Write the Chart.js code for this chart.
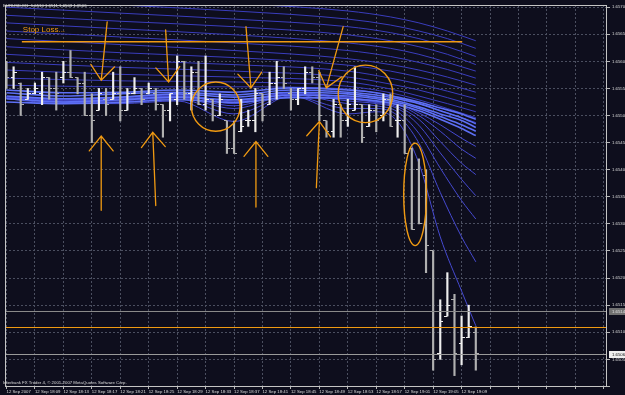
<!DOCTYPE html>
<html><head><meta charset="utf-8">
<script src="https://cdn.jsdelivr.net/npm/chart.js@4/dist/chart.umd.min.js"></script>
<style>html,body{margin:0;padding:0;background:#0e0e1d;overflow:hidden}</style>
</head><body>
<canvas id="c" width="625" height="395"></canvas>
<script>
// ---- data ----
const symbolTitle = "EURUSD,M1  1.6510 1.6511 1.6503 1.6506";
const copyrightText = "Interbank FX Trader 4, \u00A9 2001-2007 MetaQuotes Software Corp.";
const timeLabels = ["12 Sep 2007","12 Sep 18:09","12 Sep 18:13","12 Sep 18:17","12 Sep 18:21","12 Sep 18:25","12 Sep 18:29","12 Sep 18:33","12 Sep 18:37","12 Sep 18:41","12 Sep 18:45","12 Sep 18:49","12 Sep 18:53","12 Sep 18:57","12 Sep 19:01","12 Sep 19:05","12 Sep 19:09"];

const barOpen = [1.6559,1.6557,1.6556,1.6553,1.6554,1.6554,1.6557,1.6555,1.6557,1.6558,
 1.6557,1.6556,1.6550,1.6551,1.6553,1.6553,1.6554,1.6551,1.6554,1.6555,
 1.6554,1.6554,1.6552,1.6551,1.6553,1.6560,1.6554,1.6558,1.6552,1.6553,
 1.6550,1.6549,1.6544,1.6547,1.6549,1.6549,1.6554,1.6552,1.6556,1.6557,
 1.6554,1.6553,1.6555,1.6558,1.6557,1.6549,1.6547,1.6552,1.6549,1.6551,
 1.6552,1.6548,1.6551,1.6550,1.6553,1.6549,1.6549,1.6544,1.6540,1.6539,
 1.6525,1.6506,1.6513,1.6516,1.6508,1.6509,1.6510];
const barHigh = [1.6560,1.6559,1.6556,1.6555,1.6556,1.6558,1.6557,1.6558,1.6560,1.6562,
 1.6557,1.6558,1.6554,1.6555,1.6555,1.6558,1.6559,1.6555,1.6557,1.6555,
 1.6556,1.6555,1.6552,1.6554,1.6561,1.6560,1.6559,1.6560,1.6561,1.6553,
 1.6554,1.6549,1.6549,1.6553,1.6551,1.6555,1.6554,1.6558,1.6560,1.6559,
 1.6555,1.6555,1.6559,1.6559,1.6558,1.6549,1.6553,1.6552,1.6553,1.6559,
 1.6552,1.6552,1.6552,1.6554,1.6554,1.6552,1.6552,1.6544,1.6542,1.6540,
 1.6525,1.6516,1.6521,1.6517,1.6513,1.6515,1.6511];
const barLow = [1.6555,1.6555,1.6550,1.6553,1.6554,1.6552,1.6553,1.6551,1.6556,1.6557,
 1.6554,1.6550,1.6545,1.6551,1.6550,1.6553,1.6549,1.6551,1.6554,1.6552,
 1.6554,1.6551,1.6546,1.6549,1.6552,1.6553,1.6551,1.6552,1.6551,1.6549,
 1.6550,1.6543,1.6543,1.6547,1.6548,1.6547,1.6549,1.6552,1.6553,1.6555,
 1.6551,1.6552,1.6554,1.6556,1.6549,1.6546,1.6546,1.6546,1.6548,1.6551,
 1.6545,1.6548,1.6547,1.6549,1.6548,1.6546,1.6543,1.6529,1.6530,1.6521,
 1.6503,1.6505,1.6513,1.6502,1.6504,1.6509,1.6503];
const barClose = [1.6557,1.6558,1.6552,1.6554,1.6555,1.6557,1.6555,1.6554,1.6558,1.6557,
 1.6556,1.6550,1.6549,1.6554,1.6552,1.6554,1.6551,1.6554,1.6555,1.6553,
 1.6555,1.6552,1.6551,1.6554,1.6560,1.6554,1.6558,1.6552,1.6553,1.6550,
 1.6553,1.6544,1.6543,1.6548,1.6549,1.6554,1.6550,1.6556,1.6557,1.6556,
 1.6553,1.6555,1.6558,1.6557,1.6550,1.6547,1.6552,1.6549,1.6552,1.6552,
 1.6546,1.6551,1.6549,1.6553,1.6548,1.6549,1.6543,1.6529,1.6530,1.6526,
 1.6505,1.6512,1.6515,1.6506,1.6509,1.6511,1.6506];

// moving-average fan (at a few bar positions)
const upperKnots = [0,16,32,48,54,58,62,66];
const fanUpper = [
 [1.65729,1.65718,1.65707,1.65693,1.65682,1.65671,1.65656,1.65638],
 [1.65715,1.65704,1.65693,1.65678,1.65667,1.65656,1.65642,1.65624],
 [1.65700,1.65689,1.65678,1.65664,1.65653,1.65642,1.65627,1.65609],
 [1.65685,1.65674,1.65664,1.65649,1.65638,1.65627,1.65613,1.65594],
 [1.65671,1.65660,1.65649,1.65634,1.65624,1.65613,1.65598,1.65582],
 [1.65656,1.65645,1.65634,1.65620,1.65609,1.65598,1.65585,1.65569],
 [1.65642,1.65631,1.65620,1.65605,1.65594,1.65584,1.65571,1.65556],
 [1.65627,1.65616,1.65607,1.65593,1.65582,1.65571,1.65558,1.65543],
 [1.65613,1.65602,1.65594,1.65582,1.65569,1.65558,1.65545,1.65531],
 [1.65598,1.65589,1.65582,1.65571,1.65558,1.65547,1.65533,1.65518],
 [1.65584,1.65576,1.65571,1.65562,1.65549,1.65536,1.65522,1.65507],
 [1.65569,1.65564,1.65562,1.65554,1.65542,1.65529,1.65513,1.65496],
 [1.65556,1.65553,1.65553,1.65549,1.65536,1.65522,1.65505,1.65487]
];
const fullKnots = [0,8,16,24,32,40,48,52,55,58,61,64,66];
const fanCore = [
 [1.65547,1.65542,1.65543,1.65547,1.65543,1.65551,1.65547,1.65542,1.65534,1.65525,1.65514,1.65503,1.65493],
 [1.65542,1.65536,1.65540,1.65543,1.65538,1.65547,1.65543,1.65538,1.65531,1.65522,1.65509,1.65496,1.65485],
 [1.65536,1.65531,1.65534,1.65540,1.65534,1.65543,1.65540,1.65534,1.65527,1.65516,1.65503,1.65491,1.65478],
 [1.65531,1.65525,1.65529,1.65534,1.65529,1.65538,1.65536,1.65531,1.65524,1.65513,1.65498,1.65483,1.65471],
 [1.65525,1.65522,1.65524,1.65529,1.65524,1.65533,1.65531,1.65527,1.65520,1.65509,1.65493,1.65476,1.65463]
];
const fanLower = [
 [1.65531,1.65522,1.65522,1.65527,1.65489,1.65536,1.65503,1.65507,1.65489,1.65412,1.65276,1.65176,1.65112],
 [1.65533,1.65524,1.65525,1.65531,1.65503,1.65536,1.65513,1.65513,1.65500,1.65449,1.65358,1.65276,1.65230],
 [1.65533,1.65525,1.65527,1.65533,1.65513,1.65538,1.65522,1.65518,1.65507,1.65467,1.65403,1.65343,1.65309],
 [1.65534,1.65527,1.65529,1.65534,1.65518,1.65540,1.65527,1.65522,1.65513,1.65482,1.65431,1.65382,1.65352],
 [1.65534,1.65527,1.65531,1.65536,1.65522,1.65540,1.65531,1.65524,1.65516,1.65493,1.65452,1.65412,1.65391],
 [1.65534,1.65529,1.65531,1.65536,1.65525,1.65542,1.65533,1.65525,1.65520,1.65500,1.65471,1.65438,1.65421],
 [1.65534,1.65529,1.65533,1.65538,1.65527,1.65542,1.65534,1.65527,1.65522,1.65505,1.65483,1.65458,1.65443]
];

// hand-drawn annotations (bar index, price)
const stopLossPrice = 1.65636, stopLossFrom = 2.16, stopLossTo = 64.09;
const stopLossLabel = "Stop Loss...";
const orangeLevel = 1.6511, grayLevel = 1.6514, bidLevel = 1.6506;
const arrows = [
 [14.16,1.65673,13.32,1.65565],[22.38,1.65658,22.80,1.65562],
 [33.68,1.65664,34.38,1.65551],[47.35,1.65664,44.98,1.65551],
 [13.32,1.65325,13.32,1.65462],[20.99,1.65334,20.57,1.65469],
 [35.08,1.65331,35.08,1.65452],[43.58,1.65367,44.00,1.65489]
];
const ellipses = [
 [26.01,1.65562,32.85,1.65471],[46.65,1.65593,54.32,1.65487],[55.86,1.65449,59.07,1.65260]
];

// ---- style ----
const BG = '#0e0e1d', GRID = '#4b4f60', ORANGE = '#f09a12', FONT = 'Liberation Sans';
const UP = '#eeeeee', DOWN = '#b0b0b0';

function tickImg(left, color) {
  const c = document.createElement('canvas'); c.width = 6; c.height = 1;
  const g = c.getContext('2d'); g.fillStyle = color;
  g.fillRect(left ? 0 : 3, 0, 3, 1); return c;
}
const imgs = {oU: tickImg(true, UP), oD: tickImg(true, DOWN), cU: tickImg(false, UP), cD: tickImg(false, DOWN)};
const isUp = i => barClose[i] >= barOpen[i];
const pts = (knots, vals) => knots.map((k, j) => ({x: k, y: vals[j]}));

const datasets = [];
fanUpper.forEach(v => datasets.push({type:'line', data: pts(upperKnots, v), borderColor:'#3a3dbd', borderWidth:1, pointRadius:0, cubicInterpolationMode:'monotone', order:30}));
fanLower.forEach(v => datasets.push({type:'line', data: pts(fullKnots, v), borderColor:'#4549d0', borderWidth:1, pointRadius:0, cubicInterpolationMode:'monotone', order:25}));
fanCore.forEach(v => datasets.push({type:'line', data: pts(fullKnots, v), borderColor:'#5d6ff5', borderWidth:1.6, pointRadius:0, cubicInterpolationMode:'monotone', order:20}));
datasets.push({type:'bar', data: barHigh.map((h, i) => ({x:i, y:[barLow[i], h]})),
  backgroundColor: c => isUp(c.dataIndex) ? UP : DOWN, barThickness:1.5, order:3});
datasets.push({type:'line', showLine:false, data: barOpen.map((o, i) => ({x:i, y:o})),
  pointStyle: c => isUp(c.dataIndex) ? imgs.oU : imgs.oD, pointRadius:2, order:2});
datasets.push({type:'line', showLine:false, data: barClose.map((o, i) => ({x:i, y:o})),
  pointStyle: c => isUp(c.dataIndex) ? imgs.cU : imgs.cD, pointRadius:2, order:1});

const overlay = {
  id: 'overlay',
  beforeDraw(chart) {
    const g = chart.ctx; g.save(); g.fillStyle = BG; g.fillRect(0, 0, chart.width, chart.height); g.restore();
  },
  afterDatasetsDraw(chart) {
    const g = chart.ctx, a = chart.chartArea, xs = chart.scales.x, ys = chart.scales.y;
    const X = v => xs.getPixelForValue(v), Y = v => ys.getPixelForValue(v);
    g.save();
    g.beginPath(); g.rect(a.left, a.top, a.right - a.left, a.bottom - a.top); g.clip();
    // horizontal levels
    g.lineWidth = 1;
    g.strokeStyle = '#8a8a8a'; g.beginPath(); g.moveTo(a.left, Math.round(Y(grayLevel)) + .5); g.lineTo(a.right, Math.round(Y(grayLevel)) + .5); g.stroke();
    g.strokeStyle = '#9a9a9a'; g.beginPath(); g.moveTo(a.left, Math.round(Y(bidLevel)) + .5); g.lineTo(a.right, Math.round(Y(bidLevel)) + .5); g.stroke();
    g.strokeStyle = ORANGE; g.beginPath(); g.moveTo(a.left, Math.round(Y(orangeLevel)) + .5); g.lineTo(a.right, Math.round(Y(orangeLevel)) + .5); g.stroke();
    // stop loss
    g.lineWidth = 1.5;
    g.beginPath(); g.moveTo(X(stopLossFrom), Y(stopLossPrice)); g.lineTo(X(stopLossTo), Y(stopLossPrice)); g.stroke();
    g.fillStyle = ORANGE; g.font = '8px "' + FONT + '"'; g.textBaseline = 'alphabetic';
    g.fillText(stopLossLabel, X(2.3), Y(1.65655));
    // arrows
    g.lineWidth = 1.3; g.lineCap = 'round';
    arrows.forEach(([x1, p1, x2, p2]) => {
      const ax = X(x1), ay = Y(p1), bx = X(x2), by = Y(p2);
      const ang = Math.atan2(by - ay, bx - ax), L = 19, w = 0.68;
      g.beginPath(); g.moveTo(ax, ay); g.lineTo(bx, by);
      g.moveTo(bx - L * Math.cos(ang - w), by - L * Math.sin(ang - w)); g.lineTo(bx, by);
      g.lineTo(bx - L * Math.cos(ang + w), by - L * Math.sin(ang + w));
      g.stroke();
    });
    // circles / ellipse
    g.lineWidth = 1.4;
    ellipses.forEach(([x1, p1, x2, p2]) => {
      const l = X(x1), r = X(x2), t = Y(p1), b = Y(p2);
      g.beginPath(); g.ellipse((l + r) / 2, (t + b) / 2, (r - l) / 2, (b - t) / 2, 0, 0, Math.PI * 2); g.stroke();
    });
    g.restore();
    // frame
    g.save(); g.strokeStyle = '#c4c4c4'; g.lineWidth = 1;
    g.strokeRect(a.left + .5, a.top + .5, a.right - a.left - 1, a.bottom - a.top - 1);
    g.restore();
  },
  afterDraw(chart) {
    const g = chart.ctx, a = chart.chartArea, ys = chart.scales.y;
    g.save();
    g.font = '4.3px "' + FONT + '"'; g.textBaseline = 'middle';
    g.fillStyle = '#dcdcdc'; g.fillText(symbolTitle, 3, 5.5);
    g.fillText(copyrightText, 3, 383);
    // price boxes
    const box = (p, fill, txt) => {
      const y = Math.round(ys.getPixelForValue(p));
      g.fillStyle = fill; g.fillRect(a.right + 2, y - 3, 18, 7);
      g.fillStyle = txt; g.fillText(p.toFixed(4), a.right + 5, y + .5);
    };
    box(grayLevel, '#707070', '#e0e0e0');
    box(bidLevel, '#eeeeee', '#101010');
    g.restore();
  }
};

new Chart(document.getElementById('c'), {
  type: 'bar',
  data: { datasets },
  plugins: [overlay],
  options: {
    responsive: false, animation: false, events: [],
    layout: { padding: 0 },
    plugins: { legend: { display: false }, tooltip: { enabled: false } },
    scales: {
      x: {
        type: 'linear', min: -0.21, max: 84.45, offset: false,
        grid: { color: GRID, offset: false, tickLength: 2, tickColor: '#b8b8b8' },
        border: { display: false, dash: [2, 2] },
        ticks: { stepSize: 4, includeBounds: false, autoSkip: false, maxRotation: 0, align: 'start', padding: 0,
          color: '#dcdcdc', font: { family: FONT, size: 4.3 },
          callback: v => (v % 4 === 0 && v / 4 < timeLabels.length) ? timeLabels[v / 4] : '' },
        afterFit: s => { s.height = 8; s.paddingLeft = 0; s.paddingRight = 0; }
      },
      y: {
        type: 'linear', position: 'right', min: 1.64999, max: 1.65704,
        grid: { color: GRID, tickLength: 3, tickColor: '#b8b8b8' },
        border: { display: false, dash: [2, 2] },
        ticks: { stepSize: 0.0005, includeBounds: false, padding: 2, color: '#dcdcdc', font: { family: FONT, size: 4.3 },
          callback: v => v < 1.6503 ? '' : v.toFixed(4) },
        afterFit: s => { s.width = 18; s.paddingTop = 0; s.paddingBottom = 0; }
      }
    }
  }
});
</script>
</body></html>
